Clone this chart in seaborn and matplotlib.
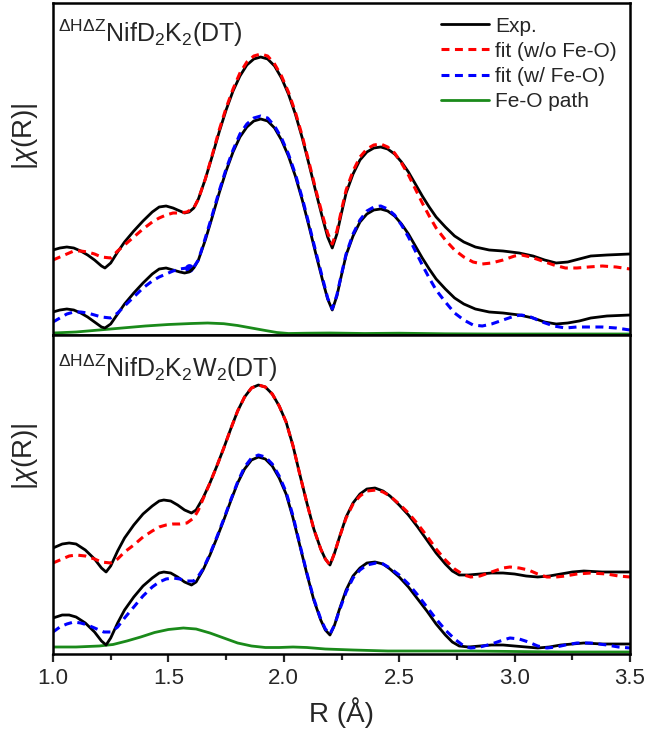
import matplotlib
matplotlib.use("Agg")
import matplotlib.pyplot as plt
import seaborn as sns
from matplotlib.ticker import MultipleLocator

# ---- top panel: NifD2K2(DT) (stacked curves, arbitrary units) ----
r_exp_top = [1.00, 1.03, 1.06, 1.09, 1.12, 1.15, 1.18, 1.21, 1.225, 1.25, 1.28, 1.31, 1.35, 1.39,
             1.43, 1.46, 1.49, 1.52, 1.55, 1.57, 1.59, 1.61, 1.63, 1.66, 1.69, 1.72, 1.75, 1.78,
             1.81, 1.84, 1.87, 1.90, 1.93, 1.96, 1.99, 2.02, 2.05, 2.08, 2.11, 2.14, 2.17, 2.19,
             2.21, 2.23, 2.25, 2.27, 2.30, 2.33, 2.36, 2.39, 2.42, 2.45, 2.48, 2.51, 2.54, 2.57,
             2.60, 2.63, 2.66, 2.70, 2.74, 2.78, 2.83, 2.89, 2.95, 3.02, 3.08, 3.13, 3.18, 3.23,
             3.28, 3.33, 3.40, 3.50]
exp_top_hi = [87, 89, 90, 89, 86, 82, 77, 71, 69, 74, 85, 95, 106, 116,
              125, 130, 131, 129, 126, 124, 125, 129, 138, 158, 181, 205, 227, 246,
              261, 272, 278, 280, 278, 271, 259, 243, 223, 199, 172, 144, 117, 100,
              89, 103, 124, 144, 163, 177, 185, 189, 190, 188, 183, 175, 165, 153,
              141, 130, 120, 110, 101, 95, 90, 87, 86, 84, 81, 77, 74, 75,
              78, 81, 82, 83]
exp_top_lo = [25, 27, 28, 27, 24, 20, 15, 10, 9, 13, 23, 33, 44, 54,
              63, 68, 69, 67, 65, 64, 65, 69, 77, 97, 120, 144, 166, 185,
              200, 210, 216, 218, 216, 209, 197, 181, 161, 137, 110, 82, 55, 38,
              27, 41, 62, 82, 101, 115, 123, 127, 128, 126, 121, 113, 103, 91,
              79, 68, 58, 48, 39, 33, 28, 25, 24, 22, 19, 15, 13, 14,
              16, 19, 21, 22]

r_fit_top = [1.00, 1.03, 1.06, 1.09, 1.12, 1.15, 1.18, 1.21, 1.25, 1.28, 1.31, 1.35, 1.39, 1.43,
             1.46, 1.49, 1.52, 1.55, 1.58, 1.61, 1.63, 1.66, 1.69, 1.72, 1.75, 1.78, 1.81, 1.84,
             1.87, 1.90, 1.93, 1.96, 1.99, 2.02, 2.05, 2.08, 2.11, 2.14, 2.17, 2.19, 2.21, 2.23,
             2.25, 2.27, 2.30, 2.33, 2.36, 2.39, 2.42, 2.45, 2.48, 2.51, 2.54, 2.57, 2.60, 2.63,
             2.66, 2.70, 2.74, 2.78, 2.82, 2.86, 2.90, 2.95, 3.00, 3.03, 3.07, 3.12, 3.17, 3.22,
             3.27, 3.32, 3.38, 3.44, 3.50]
red_top = [77, 80, 83, 86, 86, 85, 83, 80, 79, 86, 92, 100, 108, 115,
           119, 122, 124, 124, 125, 129, 138, 158, 182, 207, 229, 248, 264, 275,
           281, 283, 281, 273, 261, 245, 225, 201, 174, 146, 120, 104, 93, 106,
           127, 147, 166, 180, 188, 192, 193, 190, 184, 174, 162, 148, 134, 121,
           109, 97, 87, 80, 75, 73, 74, 77, 81, 82, 80, 76, 72, 69,
           69, 70, 71, 70, 68]
blue_top = [15, 19, 23, 25, 25, 24, 22, 20, 19, 24, 31, 40, 49, 56,
            60, 63, 66, 68, 69, 70, 77, 99, 122, 146, 168, 187, 203, 213,
            219, 221, 219, 211, 199, 183, 163, 139, 112, 84, 57, 39, 28, 42,
            63, 83, 103, 117, 126, 130, 131, 128, 122, 112, 100, 86, 72, 59,
            47, 35, 24, 17, 12, 11, 13, 17, 21, 22, 20, 15, 11, 9,
            10, 10, 10, 9, 7]
# small filled blue dot sitting on the w/ Fe-O fit in the top panel
dot_r = [1.59]
dot_y = [69]

r_green_top = [1.00, 1.10, 1.20, 1.30, 1.40, 1.50, 1.60, 1.67, 1.74, 1.80, 1.86, 1.92, 1.97,
               2.02, 2.10, 2.20, 2.35, 2.50, 2.70, 2.90, 3.10, 3.30, 3.50]
green_top = [4, 5, 7, 9, 11, 12.5, 13.5, 14, 13.3, 11.5, 9, 6.5, 4.5,
             3.5, 3.8, 4, 3.5, 3.8, 3.2, 3, 3, 3, 3]

# ---- bottom panel: NifD2K2W2(DT) ----
r_exp_bot = [1.00, 1.04, 1.07, 1.10, 1.14, 1.18, 1.21, 1.23, 1.25, 1.28, 1.31, 1.35, 1.39, 1.43,
             1.46, 1.48, 1.51, 1.54, 1.57, 1.60, 1.62, 1.65, 1.68, 1.71, 1.74, 1.77, 1.80, 1.83,
             1.86, 1.89, 1.92, 1.95, 1.98, 2.01, 2.04, 2.07, 2.10, 2.13, 2.16, 2.18, 2.20, 2.22,
             2.24, 2.27, 2.30, 2.33, 2.36, 2.395, 2.43, 2.46, 2.50, 2.54, 2.58, 2.62, 2.66, 2.70,
             2.73, 2.76, 2.80, 2.85, 2.90, 2.95, 3.00, 3.05, 3.10, 3.15, 3.20, 3.25, 3.30, 3.38,
             3.50]
exp_bot_hi = [108, 112, 113, 112, 106, 97, 88, 84, 90, 105, 118, 131, 142, 150,
              155, 156, 155, 151, 146, 143, 146, 158, 173, 190, 208, 227, 245, 259,
              268, 271, 269, 262, 250, 234, 210, 181, 153, 127, 107, 97, 91, 103,
              118, 139, 153, 162, 167, 168, 165, 160, 151, 141, 129, 116, 103, 92,
              85, 81, 81, 82, 83, 83, 82, 80, 79, 80, 82, 84, 85, 84,
              84]
exp_bot_lo = [38, 41, 41, 39, 33, 24, 15, 11, 18, 33, 46, 59, 70, 78,
              83, 84, 83, 79, 74, 71, 74, 86, 101, 118, 136, 155, 173, 187,
              196, 199, 197, 190, 178, 162, 138, 110, 82, 56, 36, 26, 21, 31,
              46, 66, 80, 88, 93, 94, 92, 87, 79, 69, 57, 45, 32, 21,
              14, 10, 9, 10, 11, 11, 10, 9, 8, 9, 11, 12, 13, 12,
              12]

r_red_bot = [1.00, 1.04, 1.07, 1.10, 1.14, 1.18, 1.21, 1.25, 1.28, 1.31, 1.35, 1.39, 1.43, 1.46,
             1.49, 1.52, 1.55, 1.58, 1.61, 1.63, 1.65, 1.68, 1.71, 1.74, 1.77, 1.80, 1.83, 1.86,
             1.89, 1.92, 1.95, 1.98, 2.01, 2.04, 2.07, 2.10, 2.13, 2.16, 2.18, 2.20, 2.22, 2.24,
             2.27, 2.30, 2.33, 2.36, 2.40, 2.43, 2.46, 2.50, 2.54, 2.58, 2.62, 2.66, 2.70, 2.74,
             2.78, 2.81, 2.85, 2.90, 2.95, 2.98, 3.02, 3.06, 3.10, 3.14, 3.18, 3.22, 3.27, 3.33,
             3.40, 3.45, 3.50]
red_bot = [93, 97, 100, 101, 100, 97, 94, 93, 97, 104, 111, 119, 125, 129,
           131, 132, 132, 133, 138, 146, 157, 173, 190, 208, 227, 245, 259, 268,
           271, 269, 262, 250, 234, 210, 181, 153, 127, 107, 97, 91, 103, 118,
           138, 152, 160, 165, 166, 164, 160, 152, 143, 132, 120, 107, 96, 87,
           81, 79, 80, 84, 88, 89, 88, 86, 82, 79, 79, 80, 82, 83,
           82, 80, 79]

r_blue_bot = [1.00, 1.03, 1.06, 1.09, 1.12, 1.15, 1.19, 1.22, 1.25, 1.28, 1.31, 1.35, 1.39, 1.43,
              1.46, 1.49, 1.52, 1.55, 1.58, 1.61, 1.63, 1.65, 1.68, 1.71, 1.74, 1.77, 1.80, 1.83,
              1.86, 1.89, 1.92, 1.95, 1.98, 2.01, 2.04, 2.07, 2.10, 2.13, 2.16, 2.18, 2.20, 2.22,
              2.24, 2.27, 2.30, 2.33, 2.36, 2.40, 2.43, 2.46, 2.50, 2.54, 2.58, 2.62, 2.66, 2.70,
              2.74, 2.78, 2.81, 2.85, 2.90, 2.95, 2.98, 3.02, 3.06, 3.10, 3.14, 3.18, 3.22, 3.27,
              3.33, 3.40, 3.45, 3.50]
blue_bot = [24, 29, 32, 34, 33, 31, 27, 24, 24, 29, 38, 49, 60, 69,
            74, 77, 78, 77, 75, 75, 80, 87, 102, 119, 137, 156, 174, 189,
            198, 201, 199, 192, 180, 164, 140, 111, 83, 57, 37, 27, 22, 31,
            45, 64, 78, 86, 91, 93, 92, 88, 81, 72, 61, 49, 37, 26,
            17, 10, 8, 9, 12, 16, 18, 17, 14, 10, 8, 9, 11, 13,
            13, 11, 9, 8]

r_green_bot = [1.00, 1.10, 1.20, 1.26, 1.32, 1.38, 1.44, 1.50, 1.565, 1.62, 1.68, 1.74, 1.80,
               1.86, 1.92, 1.98, 2.04, 2.10, 2.18, 2.30, 2.45, 2.60, 2.80, 3.00, 3.20, 3.50]
green_bot = [9, 9, 10, 11.5, 15, 19, 23.5, 26.5, 28, 27, 23, 18, 13,
             10, 8.5, 8.5, 9, 8.5, 7, 6, 5, 5, 5, 4.5, 4, 4]

titles = [r'$^{\mathrm{\Delta H\Delta Z}}$NifD$_2$K$_2$(DT)',
          r'$^{\mathrm{\Delta H\Delta Z}}$NifD$_2$K$_2$W$_2$(DT)']
labels = ['Exp.', 'fit (w/o Fe-O)', 'fit (w/ Fe-O)', 'Fe-O path']

sns.set_style("white")
plt.rcParams['font.family'] = ['Liberation Sans', 'DejaVu Sans']
plt.rcParams['mathtext.fontset'] = 'custom'
plt.rcParams['mathtext.rm'] = 'Liberation Sans'
plt.rcParams['mathtext.it'] = 'Liberation Sans:italic'

fig = plt.figure(figsize=(6.48, 7.32), dpi=100)
gs = fig.add_gridspec(2, 1, left=53/648, right=630/648, top=1-3/732, bottom=1-654/732,
                      hspace=0, height_ratios=[332, 319])
ax1 = fig.add_subplot(gs[0])
ax2 = fig.add_subplot(gs[1], sharex=ax1)

green = '#1a8a1a'
dash = (0, (2.6, 1.8))

panels = [
    (ax1, r_exp_top, exp_top_hi, exp_top_lo, r_fit_top, red_top, r_fit_top, blue_top,
     r_green_top, green_top, (2, 334), 0.955, 0.60),
    (ax2, r_exp_bot, exp_bot_hi, exp_bot_lo, r_red_bot, red_bot, r_blue_bot, blue_bot,
     r_green_bot, green_bot, (2, 321), 0.945, 0.62),
]

for i, (ax, rx, hi, lo, rr, red, rb, blue, rg, gr, ylim, ty, ly) in enumerate(panels):
    sns.lineplot(x=rg, y=gr, ax=ax, color=green, lw=2.0, label=labels[3])
    sns.lineplot(x=rx, y=hi, ax=ax, color='black', lw=2.0, label=labels[0])
    sns.lineplot(x=rx, y=lo, ax=ax, color='black', lw=2.0)
    sns.lineplot(x=rr, y=red, ax=ax, color='red', lw=2.2, linestyle=dash, label=labels[1])
    sns.lineplot(x=rb, y=blue, ax=ax, color='blue', lw=2.2, linestyle=dash, label=labels[2])
    ax.set_ylim(*ylim)
    ax.set_yticks([])
    ax.set_ylabel(r'|$\chi$(R)|', fontsize=20)
    ax.yaxis.set_label_coords(-0.022, ly)
    ax.text(0.008, ty, titles[i], transform=ax.transAxes, ha='left', va='top', fontsize=18)
    for s in ax.spines.values():
        s.set_linewidth(1.8)
        s.set_color('black')
    if ax.get_legend() is not None:
        ax.get_legend().remove()

sns.scatterplot(x=dot_r, y=dot_y, ax=ax1, color='blue', s=40, linewidth=0, legend=False)

ax1.set_xlim(1.0, 3.5)
ax1.xaxis.set_major_locator(MultipleLocator(0.5))
ax1.xaxis.set_minor_locator(MultipleLocator(0.25))
ax1.tick_params(axis='x', which='both', bottom=False, labelbottom=False)
ax2.tick_params(axis='x', which='major', direction='out', length=6, width=1.6,
                labelsize=16, bottom=True, pad=4)
ax2.tick_params(axis='x', which='minor', direction='out', length=4, width=1.6, bottom=True)
ax2.set_xlabel('R (Å)', fontsize=20, labelpad=6)

h, l = ax1.get_legend_handles_labels()
order = [l.index(lab) for lab in labels]
ax1.legend([h[k] for k in order], labels, loc='upper right', frameon=False, fontsize=15,
           handlelength=2.3, handletextpad=0.3, labelspacing=0.3, borderaxespad=0.25)

fig.savefig('out.png', dpi=100)
